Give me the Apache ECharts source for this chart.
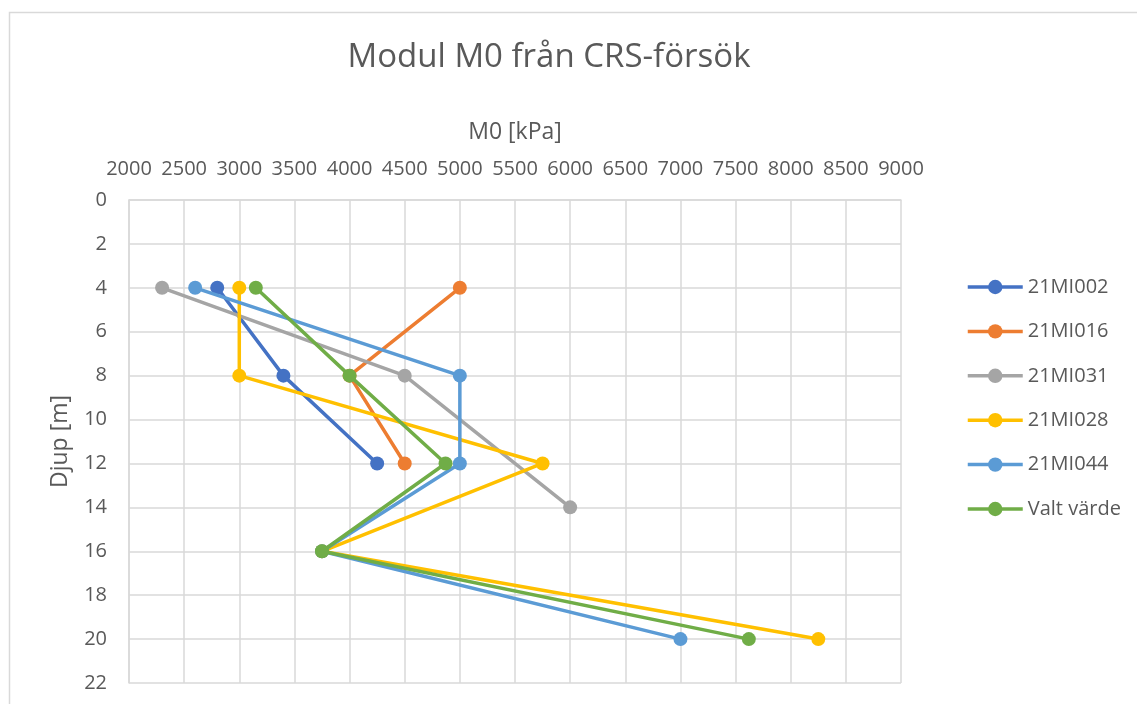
<!DOCTYPE html>
<html>
<head>
<meta charset="utf-8">
<script src="https://cdn.jsdelivr.net/npm/echarts@6/dist/echarts.min.js"></script>
<style>
  html, body { margin: 0; padding: 0; background: #fff; }
  #main { width: 1137px; height: 704px; }
</style>
</head>
<body>
<div id="main"></div>
<script>
// M0 [kPa] vs depth [m], one list per test series
const seriesNames = ['21MI002', '21MI016', '21MI031', '21MI028', '21MI044', 'Valt värde'];
const mi002 = [[2800, 4], [3400, 8], [4250, 12]];
const mi016 = [[5000, 4], [4000, 8], [4500, 12]];
const mi031 = [[2300, 4], [4500, 8], [6000, 14]];
const mi028 = [[3000, 4], [3000, 8], [5750, 12], [3750, 16], [8250, 20]];
const mi044 = [[2600, 4], [5000, 8], [5000, 12], [3750, 16], [7000, 20]];
const valt = [[3150, 4], [4000, 8], [4870, 12], [3750, 16], [7620, 20]];
const colors = ['#4472C4', '#ED7D31', '#A5A5A5', '#FFC000', '#5B9BD5', '#70AD47'];

const font = '"Open Sans", sans-serif';
const txt = '#595959';
const gridColor = '#d9d9d9';

const myChart = echarts.init(document.getElementById('main'));

const allData = [mi002, mi016, mi031, mi028, mi044, valt];
const series = allData.map((d, i) => {
  return {
    name: seriesNames[i],
    type: 'line',
    data: d,
    symbol: 'circle',
    symbolSize: 14,
    lineStyle: { width: 3.5, color: colors[i] },
    itemStyle: { color: colors[i] },
    z: 2 + i
  };
});

const option = {
  animation: false,
  textStyle: { fontFamily: font },
  graphic: [{
    type: 'rect',
    shape: { x: 9.5, y: 12.5, width: 1200, height: 800 },
    style: { fill: null, stroke: gridColor, lineWidth: 1.5 },
    silent: true
  }],
  title: {
    text: 'Modul M0 från CRS-försök',
    left: 544,
    top: 36,
    textAlign: 'center',
    textStyle: { fontFamily: font, fontSize: 33, fontWeight: 'normal', color: txt }
  },
  legend: {
    orient: 'vertical',
    left: 966,
    top: 277,
    padding: 0,
    itemWidth: 55,
    itemHeight: 18,
    itemGap: 24.4,
    lineStyle: { width: 3.5 },
    textStyle: { fontFamily: font, fontSize: 20, color: txt },
    data: seriesNames
  },
  grid: { left: 129, top: 200, right: 236, bottom: 21, containLabel: false },
  xAxis: {
    type: 'value',
    position: 'top',
    min: 2000,
    max: 9000,
    interval: 500,
    name: 'M0 [kPa]',
    nameLocation: 'middle',
    nameGap: 56,
    nameTextStyle: { fontFamily: font, fontSize: 23, color: txt },
    axisLine: { show: true, lineStyle: { color: gridColor, width: 1.5 } },
    axisTick: { show: false },
    axisLabel: { fontFamily: font, fontSize: 20, color: txt, margin: 21, formatter: v => String(v) },
    splitLine: { lineStyle: { color: gridColor, width: 1.5 } }
  },
  yAxis: {
    type: 'value',
    inverse: true,
    min: 0,
    max: 22,
    interval: 2,
    name: 'Djup [m]',
    nameLocation: 'middle',
    nameRotate: 90,
    nameGap: 57,
    nameTextStyle: { fontFamily: font, fontSize: 23, color: txt },
    axisLine: { show: true, lineStyle: { color: gridColor, width: 1.5 } },
    axisTick: { show: false },
    axisLabel: { fontFamily: font, fontSize: 20, color: txt, margin: 22 },
    splitLine: { lineStyle: { color: gridColor, width: 1.5 } }
  },
  series: series
};

myChart.setOption(option);
</script>
</body>
</html>
